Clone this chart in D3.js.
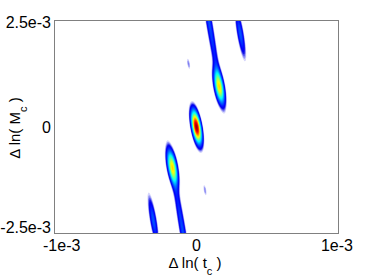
<!DOCTYPE html>
<html>
<head>
<meta charset="utf-8">
<script src="https://cdn.jsdelivr.net/npm/d3@7"></script>
<style>
body { margin: 0; background: #fff; }
text { font-family: "Liberation Sans", Arial, sans-serif; fill: #000; }
</style>
</head>
<body>
<svg id="chart" width="374" height="280"></svg>
<script>
// axis ranges, everything in units of 1e-3
const tcDomain = [-1, 1];
const mcDomain = [-2.5, 2.5];
const xTicks = [-1, 0, 1];
const xTickLabels = ["-1e-3", "0", "1e-3"];
const yTicks = [2.5, 0, -2.5];
const yTickLabels = ["2.5e-3", "0", "-2.5e-3"];

// ridges of the surface
// centre (tc, Mc), peak value, spread along the ridge (Mc) and across it (tc)
const ridgeTc   = [0.000, 0.160, -0.170, 0.088, -0.095, 0.310, -0.305, -0.056, 0.060];
const ridgeMc   = [0.00, 0.95, -0.95, 2.50, -2.50, 2.20, -2.20, 1.49, -1.49];
const ridgePeak = [1.00, 0.62, 0.62, 0.21, 0.21, 0.22, 0.22, 0.085, 0.085];
const ridgeLen  = [0.25, 0.26, 0.26, 1.00, 1.00, 0.38, 0.38, 0.12, 0.12];
const ridgeWid  = [0.019, 0.020, 0.020, 0.015, 0.015, 0.015, 0.015, 0.009, 0.009];
const ridgeSlope = -0.05;   // d(tc)/d(Mc) of every ridge

const width = 374, height = 280;
const margin = {top: 21, right: 36, bottom: 47, left: 55};
const pw = width - margin.left - margin.right;
const ph = height - margin.top - margin.bottom;

let svg = d3.select("#chart");

let x = d3.scaleLinear().domain(tcDomain).range([0, pw]);
let y = d3.scaleLinear().domain(mcDomain).range([ph, 0]);

let field = function(tc, mc){
    let s = 0;
    for(let i = 0; i < ridgeTc.length; i++){
        let a = (mc - ridgeMc[i]) / ridgeLen[i];
        let c = (tc - ridgeTc[i] - ridgeSlope * (mc - ridgeMc[i])) / ridgeWid[i];
        s += ridgePeak[i] * Math.exp(-0.5 * (a*a + c*c));
    }
    return s;
};

let values = new Array(pw * ph);
for(let j = 0; j < ph; j++)
    for(let i = 0; i < pw; i++)
        values[j*pw + i] = field(x.invert(i + 0.5), y.invert(j + 0.5));

let jet = function(t){
    let f = (v) => Math.max(0, Math.min(1, v));
    return d3.rgb(255*f(1.5 - Math.abs(4*t - 3)),
                  255*f(1.5 - Math.abs(4*t - 2)),
                  255*f(1.5 - Math.abs(4*t - 1)));
};
let color = function(v){
    if(v < 0.1)
        return d3.interpolateRgb("#ffffff", jet(0.1))((v - 0.04) / 0.06);
    return jet(v);
};

let levels = d3.range(0.05, 1.0, 0.015);
let contours = d3.contours().size([pw, ph]).thresholds(levels)(values);

let plot = svg.append("g").attr("transform", `translate(${margin.left},${margin.top})`);

plot.append("clipPath").attr("id", "clip")
    .append("rect").attr("width", pw).attr("height", ph);

plot.append("g").attr("clip-path", "url(#clip)")
    .selectAll("path").data(contours).enter().append("path")
    .attr("d", d3.geoPath())
    .style("fill", (d) => color(d.value))
    .style("stroke", "none");

plot.append("rect")
    .attr("x", -0.5).attr("y", -0.5)
    .attr("width", pw + 1).attr("height", ph + 1)
    .style("fill", "none")
    .style("stroke", "#808080")
    .style("stroke-width", "1px");

// tick labels
svg.append("g").selectAll("text").data(xTicks).enter().append("text")
    .attr("x", (d) => margin.left + x(d))
    .attr("y", margin.top + ph + 18)
    .attr("text-anchor", "middle")
    .style("font-size", "16px")
    .text((d, i) => xTickLabels[i])
    .each(function(){
        let t = d3.select(this);
        let w = this.getComputedTextLength();
        let cx = +t.attr("x");
        cx = Math.max(cx, 43 + w/2);
        cx = Math.min(cx, 353 - w/2);
        t.attr("x", cx);
    });

svg.append("g").selectAll("text").data(yTicks).enter().append("text")
    .attr("x", margin.left - 4)
    .attr("y", (d) => Math.max(28, Math.min(233, margin.top + y(d) + 6)))
    .attr("text-anchor", "end")
    .style("font-size", "16px")
    .text((d, i) => yTickLabels[i]);

// axis titles
let xt = svg.append("text")
    .attr("x", 195).attr("y", 268)
    .attr("text-anchor", "middle")
    .style("font-size", "15px");
xt.append("tspan").text("\u0394 ln( t");
xt.append("tspan").attr("dy", 7).style("font-size", "11px").text("c");
xt.append("tspan").attr("dy", -7).text(" )");

let yt = svg.append("text")
    .attr("transform", "translate(20,128) rotate(-90)")
    .attr("text-anchor", "middle")
    .style("font-size", "15px");
yt.append("tspan").text("\u0394 ln( M");
yt.append("tspan").attr("dy", 7).style("font-size", "11px").text("c");
yt.append("tspan").attr("dy", -7).text(" )");
</script>
</body>
</html>
